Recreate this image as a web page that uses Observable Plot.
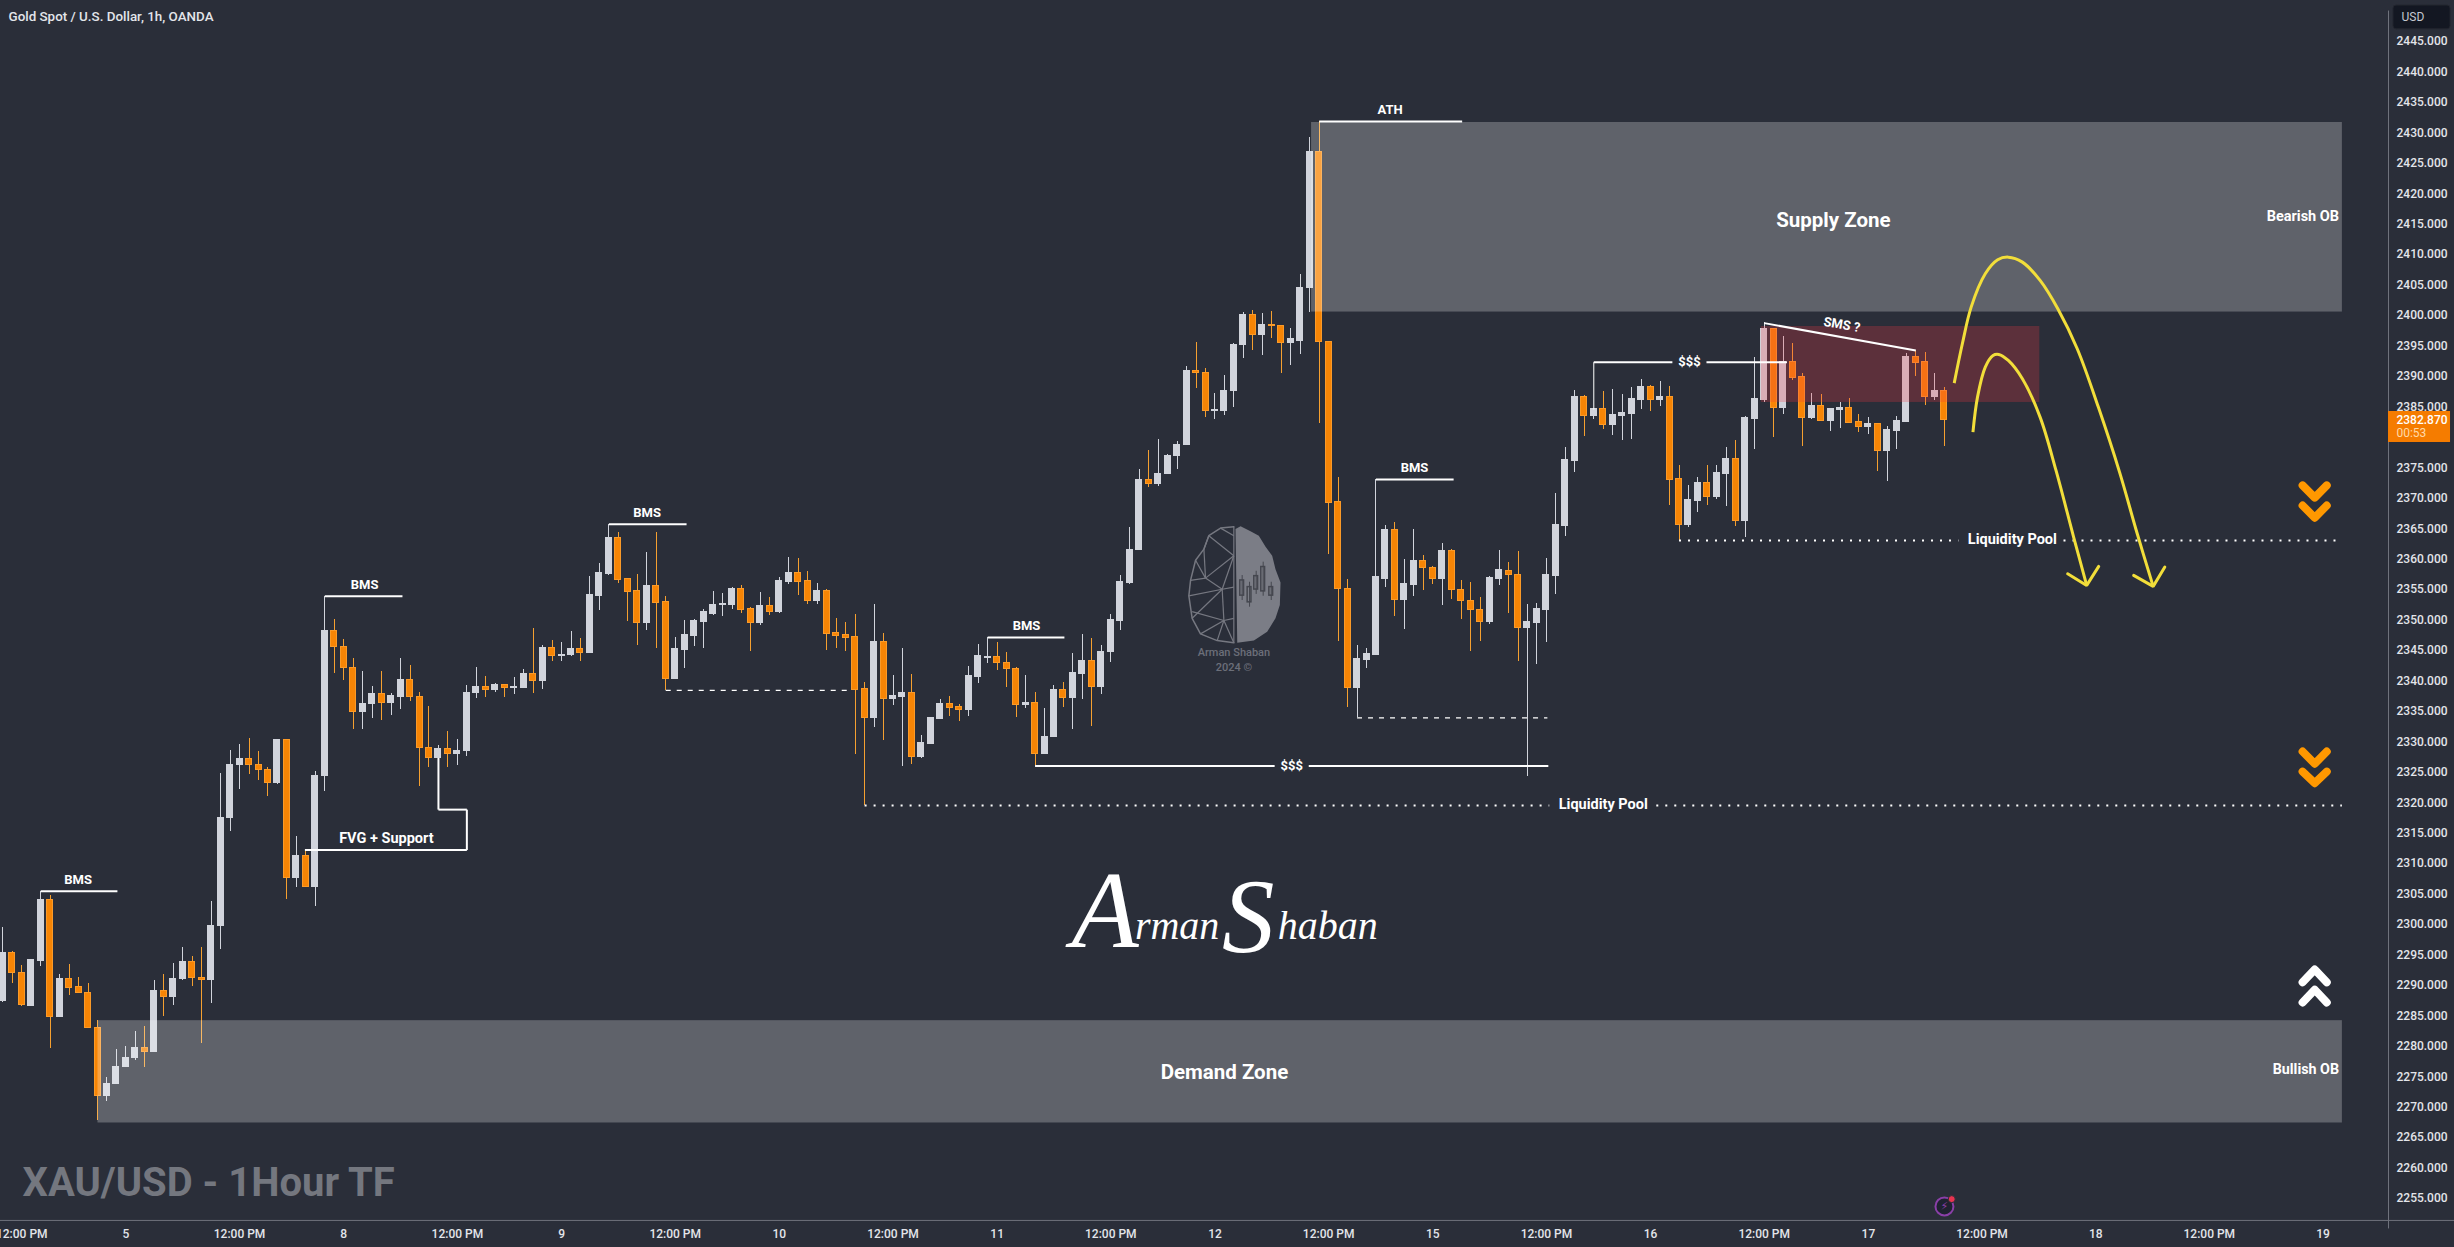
<!DOCTYPE html>
<html>
<head>
<meta charset="utf-8">
<script src="https://cdn.jsdelivr.net/npm/d3@7"></script>
<script src="https://cdn.jsdelivr.net/npm/@observablehq/plot@0.6"></script>
<style>
html,body{margin:0;padding:0;background:#2a2e39;overflow:hidden}
svg{display:block}
</style>
</head>
<body>
<div id="chart"></div>
<script>
const opens=[2287.36,2295.28,2292.03,2286.68,2293.93,2304.09,2284.78,2291.08,2289.66,2288.78,2283.02,2271.84,2273.81,2276.58,2278.01,2279.70,2279.09,2289.12,2288.10,2291.02,2293.86,2291.22,2290.88,2299.76,2317.51,2326.18,2327.19,2326.18,2325.36,2323.26,2330.24,2307.61,2311.27,2306.19,2324.35,2348.26,2345.55,2342.17,2334.92,2336.21,2337.90,2336.34,2337.42,2340.20,2337.36,2329.02,2327.33,2328.82,2327.94,2328.48,2338.03,2339.03,2338.43,2339.25,2338.76,2338.76,2341.06,2339.91,2345.33,2344.01,2344.18,2345.16,2344.51,2353.86,2357.48,2363.39,2356.66,2354.69,2349.43,2355.51,2352.88,2340.24,2345.00,2347.30,2349.59,2351.02,2352.39,2352.39,2355.01,2351.73,2349.43,2352.22,2351.24,2356.16,2357.64,2356.33,2353.04,2354.69,2347.79,2347.46,2347.13,2338.59,2333.83,2346.31,2336.95,2337.28,2337.94,2327.43,2329.56,2333.67,2336.13,2335.64,2335.15,2340.56,2343.83,2343.98,2342.95,2342.00,2336.06,2336.43,2328.00,2330.78,2338.55,2337.16,2341.19,2343.32,2338.99,2344.78,2349.77,2356.15,2361.50,2373.00,2372.27,2373.96,2376.96,2378.72,2390.89,2390.60,2384.29,2384.29,2387.59,2395.14,2400.13,2396.83,2398.44,2398.22,2395.51,2395.87,2404.52,2426.81,2395.65,2369.34,2355.12,2338.77,2343.47,2344.20,2356.81,2364.80,2353.29,2355.71,2359.74,2358.56,2356.66,2361.28,2354.96,2353.15,2351.67,2349.59,2356.66,2358.08,2357.42,2348.61,2349.43,2351.57,2357.15,2365.36,2376.04,2386.54,2383.42,2384.57,2381.95,2383.42,2383.75,2386.05,2388.19,2386.05,2386.54,2373.08,2365.53,2369.47,2372.42,2370.12,2373.90,2376.36,2366.18,2382.93,2386.05,2397.71,2384.74,2392.45,2389.83,2383.10,2385.07,2382.60,2384.41,2384.74,2382.44,2381.62,2382.11,2377.68,2380.96,2382.44,2393.11,2392.29,2386.54,2387.53];
const highs=[2299.55,2295.62,2293.25,2294.13,2305.45,2304.77,2291.83,2293.45,2291.22,2290.34,2284.24,2274.82,2279.50,2279.90,2282.41,2283.29,2290.81,2291.83,2293.59,2296.23,2294.74,2296.23,2303.82,2324.82,2328.55,2329.50,2330.58,2328.41,2325.77,2330.24,2330.24,2314.46,2312.22,2325.09,2353.89,2350.09,2346.77,2343.72,2341.56,2339.12,2341.56,2337.97,2343.66,2342.51,2338.03,2335.73,2329.36,2331.67,2330.38,2339.32,2342.17,2340.73,2339.58,2339.25,2340.56,2341.82,2348.56,2345.82,2346.64,2346.31,2348.12,2346.97,2357.09,2359.28,2365.74,2364.37,2356.82,2357.48,2361.09,2364.37,2353.86,2347.13,2349.92,2350.09,2351.73,2354.69,2354.36,2355.34,2355.67,2352.06,2354.52,2353.70,2356.98,2360.27,2360.10,2357.97,2356.00,2355.01,2350.25,2349.59,2350.91,2339.74,2352.55,2347.79,2340.89,2345.33,2341.06,2331.04,2333.83,2336.95,2337.44,2336.13,2342.37,2345.98,2347.13,2346.25,2344.64,2342.22,2340.90,2338.04,2335.40,2339.29,2339.80,2344.42,2347.64,2346.98,2345.74,2350.94,2357.25,2365.24,2374.69,2377.84,2379.60,2377.18,2379.24,2391.55,2395.51,2391.26,2387.15,2390.23,2395.36,2400.42,2400.79,2400.35,2400.64,2398.29,2397.85,2406.72,2429.23,2431.86,2395.65,2373.44,2356.73,2345.74,2345.30,2373.08,2365.53,2366.04,2359.96,2364.80,2360.54,2358.78,2362.60,2361.64,2356.49,2356.16,2353.70,2357.15,2361.42,2359.45,2361.25,2352.55,2352.71,2360.10,2370.78,2378.33,2387.69,2386.87,2384.57,2387.53,2387.86,2387.04,2388.19,2389.50,2388.51,2389.17,2388.35,2375.38,2372.09,2373.41,2375.38,2375.38,2378.33,2379.48,2383.42,2393.11,2398.80,2397.71,2396.56,2395.41,2390.48,2387.20,2387.04,2384.74,2385.72,2386.38,2383.75,2383.26,2382.27,2381.78,2383.42,2393.77,2394.26,2393.93,2390.48,2388.19];
const lows=[2287.15,2290.34,2286.54,2286.48,2293.05,2279.70,2284.78,2288.37,2288.78,2283.02,2267.84,2270.96,2273.81,2276.50,2277.67,2276.58,2279.09,2284.92,2286.68,2290.88,2289.86,2280.45,2287.02,2295.89,2315.27,2322.18,2324.62,2323.67,2320.96,2323.06,2304.09,2306.06,2306.19,2302.94,2321.91,2341.15,2340.13,2332.07,2331.94,2333.90,2333.56,2334.24,2335.32,2336.68,2322.72,2325.70,2327.13,2325.77,2326.11,2327.60,2337.09,2337.34,2338.16,2337.34,2337.83,2338.76,2337.99,2338.59,2343.19,2343.19,2344.01,2343.19,2344.51,2351.57,2357.31,2356.00,2349.76,2345.82,2348.28,2345.33,2338.43,2340.24,2342.04,2345.65,2345.33,2350.74,2350.58,2351.73,2351.07,2344.83,2349.10,2350.74,2351.07,2355.83,2354.03,2352.55,2352.55,2345.00,2345.33,2344.83,2327.92,2319.55,2332.36,2330.22,2335.97,2325.95,2326.28,2327.26,2329.56,2333.67,2334.16,2333.34,2334.16,2339.58,2342.81,2341.63,2338.99,2334.01,2335.48,2326.09,2328.00,2330.78,2335.70,2331.96,2337.01,2332.47,2337.82,2342.95,2348.30,2355.85,2361.50,2371.69,2371.98,2373.96,2374.76,2378.72,2388.03,2383.19,2382.97,2383.63,2384.88,2393.02,2394.26,2393.46,2396.17,2390.52,2391.77,2393.60,2400.57,2382.31,2360.76,2346.54,2335.55,2333.94,2342.00,2344.20,2355.27,2350.65,2348.45,2353.80,2354.83,2355.85,2352.33,2353.29,2350.09,2344.83,2346.48,2349.27,2355.67,2351.07,2343.19,2324.36,2342.70,2346.31,2354.19,2363.72,2374.23,2380.14,2382.93,2381.29,2380.30,2379.48,2379.65,2384.57,2384.25,2385.07,2368.81,2363.06,2365.20,2367.66,2368.81,2369.80,2368.65,2365.36,2363.56,2378.01,2385.72,2379.98,2383.75,2389.33,2378.50,2382.93,2382.60,2380.96,2381.45,2382.27,2380.80,2380.47,2374.39,2372.75,2378.01,2382.44,2389.99,2385.23,2386.05,2378.50];
const closes=[2295.28,2292.03,2286.75,2294.13,2304.09,2284.78,2291.08,2289.59,2288.78,2283.02,2271.84,2273.81,2276.65,2278.14,2279.77,2279.09,2289.12,2288.10,2291.08,2293.86,2291.22,2290.88,2299.76,2317.51,2326.25,2327.19,2326.18,2325.36,2323.26,2330.24,2307.61,2311.27,2306.19,2324.42,2348.26,2345.55,2342.17,2334.92,2336.21,2337.90,2336.34,2337.56,2340.20,2337.36,2329.02,2327.33,2328.82,2327.94,2328.48,2338.03,2339.05,2338.43,2339.25,2338.76,2338.92,2341.06,2339.91,2345.33,2344.01,2344.29,2345.16,2344.51,2354.03,2357.64,2363.39,2356.49,2354.52,2349.43,2355.51,2352.71,2340.24,2345.16,2347.46,2349.76,2351.24,2352.39,2352.55,2355.01,2351.57,2349.43,2352.22,2351.24,2356.33,2357.64,2356.16,2353.04,2354.69,2347.62,2347.30,2346.97,2338.43,2333.83,2346.31,2336.95,2337.44,2337.94,2327.43,2329.73,2333.83,2336.13,2335.47,2335.15,2340.73,2344.01,2343.98,2342.95,2342.00,2336.06,2336.43,2328.00,2330.78,2338.55,2337.16,2341.34,2343.32,2338.99,2344.78,2349.92,2356.29,2361.50,2373.00,2372.35,2373.96,2376.96,2378.80,2390.89,2390.52,2384.29,2384.44,2387.59,2395.21,2400.13,2396.83,2398.37,2398.29,2395.51,2396.09,2404.60,2426.81,2395.65,2369.19,2355.05,2338.77,2343.54,2344.34,2357.03,2364.80,2353.29,2355.85,2359.74,2358.56,2356.73,2361.28,2354.90,2353.04,2351.57,2349.59,2356.82,2358.13,2357.31,2348.61,2349.59,2351.73,2357.31,2365.52,2376.20,2386.54,2383.42,2384.57,2381.95,2383.59,2383.92,2386.22,2388.19,2386.05,2386.54,2372.92,2365.53,2369.63,2372.42,2370.12,2374.06,2376.36,2366.18,2383.10,2386.22,2397.71,2384.74,2392.45,2389.66,2383.10,2385.07,2382.60,2384.57,2384.74,2382.27,2381.62,2382.11,2377.68,2381.13,2382.60,2393.11,2392.13,2386.54,2387.53,2382.87];

const priceTicks=[2445,2440,2435,2430,2425,2420,2415,2410,2405,2400,2395,2390,2385,2375,2370,2365,2360,2355,2350,2345,2340,2335,2330,2325,2320,2315,2310,2305,2300,2295,2290,2285,2280,2275,2270,2265,2260,2255];
const timeTicks=[2,13,25,36,48,59,71,82,94,105,117,128,140,151,163,174,186,197,209,221,233,245];
const timeLabels=["12:00 PM","5","12:00 PM","8","12:00 PM","9","12:00 PM","10","12:00 PM","11","12:00 PM","12","12:00 PM","15","12:00 PM","16","12:00 PM","17","12:00 PM","18","12:00 PM","19"];

// [bar1, price1, bar2, price2]
const zones=[[138.2,2431.7,247.05,2400.57],[10.05,2284.2,247.05,2267.4]];
const redZone=[185.7,2398.2,215.1,2385.72];
const solidLines=[[4,2305.45,12.1,2305.45],[34,2353.89,42.2,2353.89],[64,2365.74,72.2,2365.74],[104,2347.13,112.1,2347.13],[145,2373.08,153.2,2373.08],[139,2431.86,154.1,2431.86],[109,2326.02,134.3,2326.02],[137.9,2326.02,163.2,2326.02],[168,2392.34,176.3,2392.34],[179.9,2392.34,188.4,2392.34],[186,2398.75,202,2394.26],[31.9,2312.22,49,2312.22],[49,2312.22,49,2318.86],[49,2318.86,46,2318.86],[46,2318.86,46,2327.33]];
const thinLines=[[168,2392.34,168,2384.57]];
const dashedLines=[[70,2338.43,89.2,2338.43],[143,2333.94,163.1,2333.94]];
const dottedLines=[[91,2319.55,163.3,2319.55],[174.6,2319.55,247,2319.55],[177,2363.06,206.5,2363.06],[217.6,2363.06,247,2363.06]];

const labels=["BMS","BMS","BMS","BMS","BMS","ATH","$$$","$$$"];
const labelBars=[7.95,38.2,68.04,108.1,149.07,146.5,136.1,178.1];
const labelPrices=[2307.4,2355.8,2367.6,2349.1,2375.06,2433.84,2326.02,2392.34];
const longLabels=["FVG + Support","Liquidity Pool","Liquidity Pool"];
const longLabelBars=[40.5,169,212.2];
const longLabelPrices=[2314.2,2319.7,2363.2];

const arcABars=[206.06,206.92,207.85,209.34,210.65,211.77,213.26,215.13,217.0,219.05,221.28,223.52,225.39,227.07];
const arcAPrices=[2388.90,2395.36,2401.38,2406.85,2409.15,2409.59,2408.77,2405.76,2401.11,2394.54,2384.96,2374.29,2364.16,2355.52];
const arcBBars=[208.04,208.52,209.34,210.16,210.76,211.77,213.26,215.13,216.81,218.67,220.05];
const arcBPrices=[2380.86,2386.60,2391.53,2393.44,2393.61,2392.62,2389.61,2383.32,2374.56,2363.62,2355.68];
const headABars=[225.01,227.07,228.3], headAPrices=[2357.32,2355.52,2358.69];
const headBBars=[218.04,220.05,221.32], headBPrices=[2357.60,2355.68,2358.80];

const chevronBars=[242.85,244.13,245.4];
const chevronsOrange=[[2372.1,2370.1,2372.1],[2368.8,2366.8,2368.8],[2328.4,2326.4,2328.4],[2325.1,2323.2,2325.1]];
const chevronsWhite=[[2290.5,2292.6,2290.5],[2287.2,2289.3,2287.2]];

const brainBars=[130.17,130.70,131.75,132.63,133.34,134.04,134.39,134.92,134.85,134.39,133.51,132.11,130.35];
const brainPrices=[2364.94,2365.38,2364.58,2363.84,2362.01,2360.54,2358.34,2356.15,2352.48,2350.28,2348.08,2346.62,2346.25];
const wireOutlineBars=[129.99,128.59,127.35,126.83,125.95,125.42,125.24,125.59,126.47,128.23,129.99];
const wireOutlinePrices=[2365.31,2365.09,2363.84,2361.64,2359.81,2356.51,2353.95,2350.28,2347.72,2346.62,2346.25];
const wireLines=[[127,2356.88,126.83,2361.64],[127,2356.88,125.95,2359.81],[127,2356.88,125.42,2356.51],[127,2356.88,129.99,2360.54],[127,2356.88,128.76,2355.05],[128.76,2355.05,125.24,2353.95],[128.76,2355.05,125.59,2350.28],[128.76,2355.05,128.94,2349.92],[128.76,2355.05,129.99,2355.41],[128.76,2355.05,129.99,2360.54],[128.94,2349.92,126.47,2347.72],[128.94,2349.92,128.23,2346.62],[128.94,2349.92,129.99,2350.28],[128.94,2349.92,129.99,2346.25],[128.94,2349.92,125.59,2351.38],[127.35,2363.84,129.99,2360.54],[128.59,2365.09,129.99,2363.84],[127.35,2363.84,126.83,2361.64],[129.99,2365.31,129.99,2346.25]];
const iconBars=[130.87,131.65,132.35,133.09,133.94];
const iconTops=[2356.5,2355.4,2357.2,2358.7,2355.4];
const iconBottoms=[2354.0,2352.9,2355.0,2354.7,2354.0];

const signatureParts=["A","rman","S","haban"];
const signatureBars=[116.4,124.0,131.5,139.9];
const signaturePrices=[2302.1,2299.8,2301.0,2299.8];
const signatureSizes=[110,40,105,40];

const bars=opens.map((o,i)=>({i,o,h:highs[i],l:lows[i],c:closes[i],up:closes[i]>=o}));
const up=bars.filter(d=>d.up), down=bars.filter(d=>!d.up);
const seg=a=>a.map(s=>({x1:s[0],y1:s[1],x2:s[2],y2:s[3]}));
const pts=(xs,ys)=>xs.map((x,k)=>({x,y:ys[k]}));
const font="Roboto, 'Noto Sans', sans-serif";
const halfBody=0.317;
const UP="#d1d4dc", DOWN="#f78505", DOWNEDGE="#fb9a28", DOWNWICK="#f5a030", LINE="#ffffff", YELLOW="#f2de3a";
const last=closes[closes.length-1];

const wick=(data,color)=>Plot.ruleX(data,{x:"i",y1:"l",y2:"h",stroke:color,strokeWidth:1,shapeRendering:"crispEdges"});
const body=(data,fill,edge)=>Plot.rect(data,{x1:d=>d.i-halfBody,x2:d=>d.i+halfBody,y1:d=>Math.min(d.o,d.c),y2:d=>Math.max(d.o,d.c),fill,stroke:edge,strokeWidth:1,shapeRendering:"crispEdges"});

const chart=Plot.plot({
  width:2454,height:1247,marginTop:0,marginLeft:0,marginRight:66,marginBottom:27,
  style:{background:"#2a2e39",fontFamily:font,fontSize:"12px",color:"#e3e5ea"},
  x:{type:"linear",domain:[-0.246,251.92],range:[0,2388],axis:null},
  y:{type:"linear",domain:[2255,2445],range:[1198,41],axis:null},
  marks:[
    // watermark logo
    Plot.line(pts(brainBars,brainPrices),{x:"x",y:"y",fill:"#7b7d86",stroke:"none"}),
    Plot.line(pts(wireOutlineBars,wireOutlinePrices),{x:"x",y:"y",stroke:"#767881",strokeWidth:1.5}),
    Plot.link(seg(wireLines),{x1:"x1",y1:"y1",x2:"x2",y2:"y2",stroke:"#767881",strokeWidth:1.2}),
    Plot.rect(iconBars.map((x,k)=>({x,t:iconTops[k],b:iconBottoms[k]})),{x1:d=>d.x-0.2,x2:d=>d.x+0.2,y1:"b",y2:"t",fill:"none",stroke:"#45474f",strokeWidth:1.5}),
    Plot.ruleX(iconBars.map((x,k)=>({x,t:iconTops[k]+0.8,b:iconBottoms[k]-0.8})),{x:"x",y1:"b",y2:"t",stroke:"#45474f",strokeWidth:1}),
    Plot.text(["Arman Shaban"],{x:[130],y:[2344.6],text:d=>d,fontSize:11,fontWeight:500,fill:"#6c6f79",letterSpacing:"0.3px"}),
    Plot.text(["2024 ©"],{x:[130],y:[2342.2],text:d=>d,fontSize:11,fontWeight:500,fill:"#6c6f79",letterSpacing:"0.3px"}),

    // candles
    wick(up,UP),wick(down,DOWNWICK),
    body(up,UP,UP),body(down,DOWN,DOWNEDGE),

    // zones
    Plot.rect(seg(zones),{x1:"x1",x2:"x2",y1:"y2",y2:"y1",fill:"#ffffff",fillOpacity:0.25}),
    Plot.rect(seg([redZone]),{x1:"x1",x2:"x2",y1:"y2",y2:"y1",fill:"#f23645",fillOpacity:0.25}),

    // drawings
    Plot.link(seg(solidLines),{x1:"x1",y1:"y1",x2:"x2",y2:"y2",stroke:LINE,strokeWidth:2}),
    Plot.link(seg(thinLines),{x1:"x1",y1:"y1",x2:"x2",y2:"y2",stroke:LINE,strokeWidth:1}),
    Plot.link(seg(dashedLines),{x1:"x1",y1:"y1",x2:"x2",y2:"y2",stroke:LINE,strokeWidth:1.2,strokeDasharray:"5,6"}),
    Plot.link(seg(dottedLines),{x1:"x1",y1:"y1",x2:"x2",y2:"y2",stroke:LINE,strokeWidth:2,strokeDasharray:"2,7"}),
    Plot.text(labels.map((t,k)=>({t,x:labelBars[k],y:labelPrices[k]})),{x:"x",y:"y",text:"t",fontSize:13,fontWeight:700,fill:"#ffffff"}),
    Plot.text(longLabels.map((t,k)=>({t,x:longLabelBars[k],y:longLabelPrices[k]})),{x:"x",y:"y",text:"t",fontSize:14.5,fontWeight:700,fill:"#ffffff"}),
    Plot.text(["SMS ?"],{x:[194.2],y:[2398.47],text:d=>d,fontSize:13,fontWeight:700,fill:"#ffffff",rotate:10}),
    Plot.text(["Supply Zone"],{x:[193.3],y:[2415.6],text:d=>d,fontSize:20.5,fontWeight:700,fill:"#ffffff"}),
    Plot.text(["Demand Zone"],{x:[129],y:[2275.7],text:d=>d,fontSize:20.5,fontWeight:700,fill:"#ffffff"}),
    Plot.text(["Bearish OB"],{x:[246.7],y:[2416.3],text:d=>d,textAnchor:"end",fontSize:14.5,fontWeight:700,fill:"#ffffff"}),
    Plot.text(["Bullish OB"],{x:[246.7],y:[2276.2],text:d=>d,textAnchor:"end",fontSize:14.3,fontWeight:700,fill:"#ffffff"}),

    // forecast arrows
    Plot.line(pts(arcABars,arcAPrices),{x:"x",y:"y",curve:"catmull-rom",stroke:YELLOW,strokeWidth:3,strokeLinecap:"butt"}),
    Plot.line(pts(arcBBars,arcBPrices),{x:"x",y:"y",curve:"catmull-rom",stroke:YELLOW,strokeWidth:3,strokeLinecap:"butt"}),
    Plot.line(pts(headABars,headAPrices),{x:"x",y:"y",stroke:YELLOW,strokeWidth:3,strokeLinejoin:"miter"}),
    Plot.line(pts(headBBars,headBPrices),{x:"x",y:"y",stroke:YELLOW,strokeWidth:3,strokeLinejoin:"miter"}),

    // chevrons
    ...chevronsOrange.map(ys=>Plot.line(pts(chevronBars,ys),{x:"x",y:"y",stroke:"#ff9800",strokeWidth:8,strokeLinecap:"round",strokeLinejoin:"round"})),
    ...chevronsWhite.map(ys=>Plot.line(pts(chevronBars,ys),{x:"x",y:"y",stroke:"#ffffff",strokeWidth:8,strokeLinecap:"round",strokeLinejoin:"round"})),

    // signature
    Plot.text(signatureParts.map((t,k)=>({t,x:signatureBars[k],y:signaturePrices[k],s:signatureSizes[k]})),{x:"x",y:"y",text:"t",fontSize:"s",fontFamily:"'Liberation Serif', serif",fontStyle:"italic",fill:"#ffffff"}),

    // corner caption
    Plot.text(["XAU/USD - 1Hour TF"],{x:[2.08],y:[2257.5],text:d=>d,textAnchor:"start",fontSize:40,fontWeight:700,fill:"#74777f",letterSpacing:"1px"}),
    Plot.text(["Gold Spot / U.S. Dollar, 1h, OANDA"],{x:[0.6],y:[2449.1],text:d=>d,textAnchor:"start",fontSize:13.4,fontWeight:500,fill:"#e3e5ea"}),

    // lightning badge
    Plot.dot([0],{x:[205.03],y:[2253.7],r:9,fill:"#1f2230",stroke:"#8a3fa8",strokeWidth:2}),
    Plot.text(["⚡"],{x:[205.03],y:[2253.7],text:d=>d,fontSize:11,fill:"#8a3fa8",fontFamily:"'DejaVu Sans'"}),
    Plot.dot([0],{x:[205.8],y:[2254.9],r:3.5,fill:"#e8334f",stroke:"#2a2e39",strokeWidth:1}),

    // panes and axes
    Plot.ruleX([251.92],{stroke:"#6f727c",strokeWidth:1,y1:2450,y2:2250}),
    Plot.ruleY([2251.4],{stroke:"#6f727c",strokeWidth:1,x1:-1,x2:259}),
    Plot.axisY({anchor:"right",ticks:priceTicks,tickFormat:d=>d.toFixed(3),tickSize:0,tickPadding:8,label:null,fontSize:12,fontWeight:500,color:"#e3e5ea"}),
    Plot.axisX({anchor:"bottom",ticks:timeTicks,tickFormat:d=>timeLabels[timeTicks.indexOf(d)],tickSize:0,tickPadding:9,label:null,fontSize:12,fontWeight:500,color:"#e3e5ea"}),

    // USD button and last price tag
    Plot.rect([0],{x1:[252.45],x2:[258.47],y1:[2447],y2:[2450.9],fill:"#131722",stroke:"#23262f",strokeWidth:1,rx:3}),
    Plot.text(["USD"],{x:[253.3],y:[2448.94],text:d=>d,textAnchor:"start",fontSize:12,fill:"#c5c8d0"}),
    Plot.rect([0],{x1:[251.92],x2:[258.47],y1:[2379.15],y2:[2384.24],fill:"#f57c00"}),
    Plot.text([last],{x:[252.76],y:[last],text:d=>d.toFixed(3),textAnchor:"start",fontSize:12,fontWeight:500,fill:"#ffffff"}),
    Plot.text(["00:53"],{x:[252.76],y:[2380.63],text:d=>d,textAnchor:"start",fontSize:12,fill:"#ffd9a8"})
  ]
});
document.getElementById("chart").appendChild(chart);
</script>
</body>
</html>
